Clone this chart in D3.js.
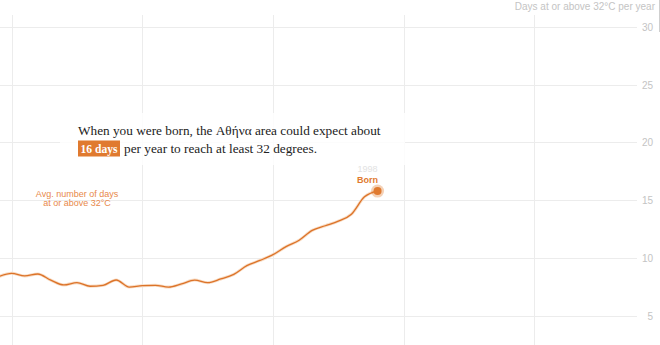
<!DOCTYPE html>
<html>
<head>
<meta charset="UTF-8">
<script src="https://d3js.org/d3.v7.min.js"></script>
<style>
  body { margin: 0; background: #fff; }
  svg { display: block; }
  .tick-label { font-family: "Liberation Sans", Arial, sans-serif; font-size: 10px; fill: #c4c4c4; }
</style>
</head>
<body>
<script>
  // Athens: avg number of days at or above 32C, per year
  var years = [1969, 1970, 1971, 1972, 1973, 1974, 1975, 1976, 1977, 1978,
    1979, 1980, 1981, 1982, 1983, 1984, 1985, 1986, 1987, 1988,
    1989, 1990, 1991, 1992, 1993, 1994, 1995, 1996, 1997, 1998];
  var days = [8.4, 8.69, 8.46, 8.63, 8.1, 7.68, 7.88, 7.57, 7.65, 8.11,
    7.5, 7.62, 7.65, 7.5, 7.77, 8.1, 7.88, 8.2, 8.6, 9.35,
    9.8, 10.3, 11.0, 11.55, 12.4, 12.8, 13.2, 13.8, 15.3, 15.8];
  var yTicks = [5, 10, 15, 20, 25, 30];
  var xTicks = [1970, 1980, 1990, 2000, 2010];
  var bornYear = 1998;
  var bornDays = 16;

  var width = 660;
  var height = 345;
  var orange = "#e07a2f";

  var svg = d3.select("body").append("svg")
    .attr("width", width)
    .attr("height", height);

  var x = d3.scaleLinear().domain([1990, 2000]).range([273, 403.7]);
  var y = d3.scaleLinear().domain([0, 30]).range([373.8, 26.8]);

  // gridlines
  svg.append("g").selectAll("line.v")
    .data(xTicks).enter().append("line")
    .attr("x1", function(d) { return Math.round(x(d)) + 0.5; })
    .attr("x2", function(d) { return Math.round(x(d)) + 0.5; })
    .attr("y1", 15).attr("y2", height)
    .attr("stroke", "#ececec");

  svg.append("g").selectAll("line.h")
    .data(yTicks).enter().append("line")
    .attr("x1", 0).attr("x2", 637)
    .attr("y1", function(d) { return Math.round(y(d)) + 0.5; })
    .attr("y2", function(d) { return Math.round(y(d)) + 0.5; })
    .attr("stroke", "#ececec");

  svg.append("g").selectAll("text")
    .data(yTicks).enter().append("text")
    .attr("class", "tick-label")
    .attr("x", 653)
    .attr("y", function(d) { return y(d) + 4; })
    .attr("text-anchor", "end")
    .text(function(d) { return d; });

  svg.append("text")
    .attr("class", "tick-label")
    .attr("x", 655).attr("y", 10)
    .attr("text-anchor", "end")
    .attr("font-size", "9.5px")
    .text("Days at or above 32°C per year");

  // right edge border
  svg.append("line")
    .attr("x1", 659.5).attr("x2", 659.5).attr("y1", 0).attr("y2", 32)
    .attr("stroke", "#cfcfcf");

  // white panel behind the annotation
  svg.append("rect")
    .attr("x", 60).attr("y", 113).attr("width", 345).attr("height", 52)
    .attr("fill", "#fff").attr("opacity", 0.85);

  // the line
  var data = years.map(function(yr, i) { return { year: yr, v: days[i] }; });
  var line = d3.line()
    .x(function(d) { return x(d.year); })
    .y(function(d) { return y(d.v); })
    .curve(d3.curveMonotoneX);

  svg.append("path")
    .datum(data)
    .attr("d", line)
    .attr("fill", "none")
    .attr("stroke", "#f8dcc4")
    .attr("stroke-width", 3);

  svg.append("path")
    .datum(data)
    .attr("d", line)
    .attr("fill", "none")
    .attr("stroke", "#dc7329")
    .attr("stroke-width", 1.3);

  // born marker
  var last = data[data.length - 1];
  svg.append("circle")
    .attr("cx", x(last.year)).attr("cy", y(last.v))
    .attr("r", 6.5).attr("fill", orange).attr("opacity", 0.35);
  svg.append("circle")
    .attr("cx", x(last.year)).attr("cy", y(last.v))
    .attr("r", 4).attr("fill", orange);

  svg.append("text")
    .attr("x", x(bornYear) - 10).attr("y", 172)
    .attr("text-anchor", "middle")
    .attr("font-family", "Liberation Sans, Arial, sans-serif")
    .attr("font-size", "9px")
    .attr("fill", "#e2e2e2")
    .text(bornYear);

  svg.append("text")
    .attr("x", x(bornYear) - 10).attr("y", 182.5)
    .attr("text-anchor", "middle")
    .attr("font-family", "Liberation Sans, Arial, sans-serif")
    .attr("font-size", "9px")
    .attr("font-weight", "bold")
    .attr("fill", orange)
    .text("Born");

  // series label
  var lab = svg.append("text")
    .attr("text-anchor", "middle")
    .attr("font-family", "Liberation Sans, Arial, sans-serif")
    .attr("font-size", "9px")
    .attr("fill", "#e8894a");
  lab.append("tspan").attr("x", 77).attr("y", 197).text("Avg. number of days");
  lab.append("tspan").attr("x", 77).attr("y", 206).text("at or above 32°C");

  // annotation text, font size fitted to the reference width
  var serif = "'Liberation Serif', 'DejaVu Serif', serif";
  var t1 = svg.append("text")
    .attr("x", 78).attr("y", 135)
    .attr("font-family", serif)
    .attr("font-size", "14px")
    .attr("fill", "#222")
    .text("When you were born, the Αθήνα area could expect about");
  var w1 = t1.node().getComputedTextLength();
  var fs = w1 > 0 ? 14 * 303 / w1 : 14;
  t1.attr("font-size", fs + "px");

  svg.append("rect")
    .attr("x", 78).attr("y", 140.5).attr("width", 42).attr("height", 16)
    .attr("fill", orange);
  svg.append("text")
    .attr("x", 80.5).attr("y", 153)
    .attr("font-family", serif)
    .attr("font-size", fs + "px")
    .attr("font-weight", "bold")
    .attr("fill", "#fff")
    .attr("textLength", 37).attr("lengthAdjust", "spacingAndGlyphs")
    .text(bornDays + " days");

  svg.append("text")
    .attr("x", 124).attr("y", 153)
    .attr("font-family", serif)
    .attr("font-size", fs + "px")
    .attr("fill", "#222")
    .text("per year to reach at least 32 degrees.");
</script>
</body>
</html>
